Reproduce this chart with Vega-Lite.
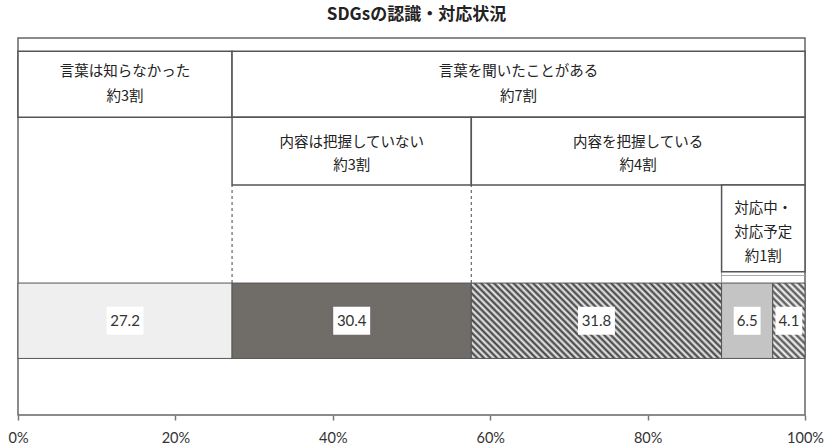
{
  "$schema": "https://vega.github.io/schema/vega-lite/v6.json",
  "width": 787,
  "height": 377,
  "autosize": {"type": "none"},
  "padding": {"left": 18, "top": 38, "right": 31, "bottom": 33},
  "background": "white",
  "title": {
    "text": "SDGsの認識・対応状況",
    "font": "Noto Sans CJK JP",
    "fontSize": 17,
    "fontWeight": "bold",
    "color": "#222222",
    "anchor": "middle",
    "offset": 14,
    "dx": 5
  },
  "config": {
    "view": {"stroke": "#666666", "strokeWidth": 1.5},
    "axisY": {"disable": true}
  },
  "datasets": {
    "results": [
      {"key": "unaware", "order": 1, "value": 27.2},
      {"key": "heard", "order": 2, "value": 30.4},
      {"key": "known", "order": 3, "value": 31.8},
      {"key": "acting", "order": 4, "value": 6.5},
      {"key": "planned", "order": 5, "value": 4.1}
    ],
    "groups": [
      {"level": "word", "from": 0, "to": 27.2, "label": "言葉は知らなかった\n約3割"},
      {"level": "word", "from": 27.2, "to": 100, "label": "言葉を聞いたことがある\n約7割"},
      {"level": "content", "from": 27.2, "to": 57.6, "label": "内容は把握していない\n約3割"},
      {"level": "content", "from": 57.6, "to": 100, "label": "内容を把握している\n約4割"},
      {"level": "action", "from": 89.4, "to": 100, "label": "対応中・\n対応予定\n約1割"}
    ]
  },
  "layer": [
    {
      "data": {"name": "results"},
      "transform": [
        {"stack": "value", "groupby": [], "sort": [{"field": "order", "order": "ascending"}], "as": ["x0", "x1"]}
      ],
      "mark": {"type": "rect", "stroke": "#555555", "strokeWidth": 1},
      "encoding": {
        "x": {
          "field": "x0",
          "type": "quantitative",
          "scale": {"domain": [0, 100], "nice": false},
          "axis": {
            "values": [0, 20, 40, 60, 80, 100],
            "labelExpr": "datum.value + '%'",
            "title": null,
            "grid": false,
            "domain": false,
            "ticks": true,
            "tickSize": 5,
            "tickWidth": 1.5,
            "tickColor": "#777777",
            "labelFont": "Lato",
            "labelFontSize": 14.5,
            "labelColor": "#333333",
            "labelPadding": 11,
            "labelFlush": false
          }
        },
        "x2": {"field": "x1"},
        "y": {"datum": 35, "type": "quantitative", "scale": {"domain": [0, 100], "nice": false}},
        "y2": {"datum": 15},
        "fill": {
          "condition": [
            {"test": "datum.key === 'unaware'", "value": "#efefef"},
            {"test": "datum.key === 'heard'", "value": "#706c68"},
            {"test": "datum.key === 'acting'", "value": "#c4c4c4"},
            {
              "test": "datum.key === 'known'",
              "value": {
                "gradient": "linear",
                "x1": 0, "y1": 1, "x2": 1.193, "y2": 0.642,
                "stops": [
                  {"offset": 0, "color": "#3a3a3a"}, {"offset": 0.01, "color": "#f2f2f2"},
                  {"offset": 0.02, "color": "#3a3a3a"}, {"offset": 0.03, "color": "#f2f2f2"},
                  {"offset": 0.04, "color": "#3a3a3a"}, {"offset": 0.05, "color": "#f2f2f2"},
                  {"offset": 0.06, "color": "#3a3a3a"}, {"offset": 0.07, "color": "#f2f2f2"},
                  {"offset": 0.08, "color": "#3a3a3a"}, {"offset": 0.09, "color": "#f2f2f2"},
                  {"offset": 0.1, "color": "#3a3a3a"}, {"offset": 0.11, "color": "#f2f2f2"},
                  {"offset": 0.12, "color": "#3a3a3a"}, {"offset": 0.13, "color": "#f2f2f2"},
                  {"offset": 0.14, "color": "#3a3a3a"}, {"offset": 0.15, "color": "#f2f2f2"},
                  {"offset": 0.16, "color": "#3a3a3a"}, {"offset": 0.17, "color": "#f2f2f2"},
                  {"offset": 0.18, "color": "#3a3a3a"}, {"offset": 0.19, "color": "#f2f2f2"},
                  {"offset": 0.2, "color": "#3a3a3a"}, {"offset": 0.21, "color": "#f2f2f2"},
                  {"offset": 0.22, "color": "#3a3a3a"}, {"offset": 0.23, "color": "#f2f2f2"},
                  {"offset": 0.24, "color": "#3a3a3a"}, {"offset": 0.25, "color": "#f2f2f2"},
                  {"offset": 0.26, "color": "#3a3a3a"}, {"offset": 0.27, "color": "#f2f2f2"},
                  {"offset": 0.28, "color": "#3a3a3a"}, {"offset": 0.29, "color": "#f2f2f2"},
                  {"offset": 0.3, "color": "#3a3a3a"}, {"offset": 0.31, "color": "#f2f2f2"},
                  {"offset": 0.32, "color": "#3a3a3a"}, {"offset": 0.33, "color": "#f2f2f2"},
                  {"offset": 0.34, "color": "#3a3a3a"}, {"offset": 0.35, "color": "#f2f2f2"},
                  {"offset": 0.36, "color": "#3a3a3a"}, {"offset": 0.37, "color": "#f2f2f2"},
                  {"offset": 0.38, "color": "#3a3a3a"}, {"offset": 0.39, "color": "#f2f2f2"},
                  {"offset": 0.4, "color": "#3a3a3a"}, {"offset": 0.41, "color": "#f2f2f2"},
                  {"offset": 0.42, "color": "#3a3a3a"}, {"offset": 0.43, "color": "#f2f2f2"},
                  {"offset": 0.44, "color": "#3a3a3a"}, {"offset": 0.45, "color": "#f2f2f2"},
                  {"offset": 0.46, "color": "#3a3a3a"}, {"offset": 0.47, "color": "#f2f2f2"},
                  {"offset": 0.48, "color": "#3a3a3a"}, {"offset": 0.49, "color": "#f2f2f2"},
                  {"offset": 0.5, "color": "#3a3a3a"}, {"offset": 0.51, "color": "#f2f2f2"},
                  {"offset": 0.52, "color": "#3a3a3a"}, {"offset": 0.53, "color": "#f2f2f2"},
                  {"offset": 0.54, "color": "#3a3a3a"}, {"offset": 0.55, "color": "#f2f2f2"},
                  {"offset": 0.56, "color": "#3a3a3a"}, {"offset": 0.57, "color": "#f2f2f2"},
                  {"offset": 0.58, "color": "#3a3a3a"}, {"offset": 0.59, "color": "#f2f2f2"},
                  {"offset": 0.6, "color": "#3a3a3a"}, {"offset": 0.61, "color": "#f2f2f2"},
                  {"offset": 0.62, "color": "#3a3a3a"}, {"offset": 0.63, "color": "#f2f2f2"},
                  {"offset": 0.64, "color": "#3a3a3a"}, {"offset": 0.65, "color": "#f2f2f2"},
                  {"offset": 0.66, "color": "#3a3a3a"}, {"offset": 0.67, "color": "#f2f2f2"},
                  {"offset": 0.68, "color": "#3a3a3a"}, {"offset": 0.69, "color": "#f2f2f2"},
                  {"offset": 0.7, "color": "#3a3a3a"}, {"offset": 0.71, "color": "#f2f2f2"},
                  {"offset": 0.72, "color": "#3a3a3a"}, {"offset": 0.73, "color": "#f2f2f2"},
                  {"offset": 0.74, "color": "#3a3a3a"}, {"offset": 0.75, "color": "#f2f2f2"},
                  {"offset": 0.76, "color": "#3a3a3a"}, {"offset": 0.77, "color": "#f2f2f2"},
                  {"offset": 0.78, "color": "#3a3a3a"}, {"offset": 0.79, "color": "#f2f2f2"},
                  {"offset": 0.8, "color": "#3a3a3a"}, {"offset": 0.81, "color": "#f2f2f2"},
                  {"offset": 0.82, "color": "#3a3a3a"}, {"offset": 0.83, "color": "#f2f2f2"},
                  {"offset": 0.84, "color": "#3a3a3a"}, {"offset": 0.85, "color": "#f2f2f2"},
                  {"offset": 0.86, "color": "#3a3a3a"}, {"offset": 0.87, "color": "#f2f2f2"},
                  {"offset": 0.88, "color": "#3a3a3a"}, {"offset": 0.89, "color": "#f2f2f2"},
                  {"offset": 0.9, "color": "#3a3a3a"}, {"offset": 0.91, "color": "#f2f2f2"},
                  {"offset": 0.92, "color": "#3a3a3a"}, {"offset": 0.93, "color": "#f2f2f2"},
                  {"offset": 0.94, "color": "#3a3a3a"}, {"offset": 0.95, "color": "#f2f2f2"},
                  {"offset": 0.96, "color": "#3a3a3a"}, {"offset": 0.97, "color": "#f2f2f2"},
                  {"offset": 0.98, "color": "#3a3a3a"}, {"offset": 0.99, "color": "#f2f2f2"},
                  {"offset": 1, "color": "#3a3a3a"}
                ]
              }
            }
          ],
          "value": {
            "gradient": "linear",
            "x1": 0, "y1": 1, "x2": 0.517, "y2": -0.207,
            "stops": [
              {"offset": 0, "color": "#4a4a4a"}, {"offset": 0.03125, "color": "#ffffff"},
              {"offset": 0.0625, "color": "#4a4a4a"}, {"offset": 0.09375, "color": "#ffffff"},
              {"offset": 0.125, "color": "#4a4a4a"}, {"offset": 0.15625, "color": "#ffffff"},
              {"offset": 0.1875, "color": "#4a4a4a"}, {"offset": 0.21875, "color": "#ffffff"},
              {"offset": 0.25, "color": "#4a4a4a"}, {"offset": 0.28125, "color": "#ffffff"},
              {"offset": 0.3125, "color": "#4a4a4a"}, {"offset": 0.34375, "color": "#ffffff"},
              {"offset": 0.375, "color": "#4a4a4a"}, {"offset": 0.40625, "color": "#ffffff"},
              {"offset": 0.4375, "color": "#4a4a4a"}, {"offset": 0.46875, "color": "#ffffff"},
              {"offset": 0.5, "color": "#4a4a4a"}, {"offset": 0.53125, "color": "#ffffff"},
              {"offset": 0.5625, "color": "#4a4a4a"}, {"offset": 0.59375, "color": "#ffffff"},
              {"offset": 0.625, "color": "#4a4a4a"}, {"offset": 0.65625, "color": "#ffffff"},
              {"offset": 0.6875, "color": "#4a4a4a"}, {"offset": 0.71875, "color": "#ffffff"},
              {"offset": 0.75, "color": "#4a4a4a"}, {"offset": 0.78125, "color": "#ffffff"},
              {"offset": 0.8125, "color": "#4a4a4a"}, {"offset": 0.84375, "color": "#ffffff"},
              {"offset": 0.875, "color": "#4a4a4a"}, {"offset": 0.90625, "color": "#ffffff"},
              {"offset": 0.9375, "color": "#4a4a4a"}, {"offset": 0.96875, "color": "#ffffff"},
              {"offset": 1, "color": "#4a4a4a"}
            ]
          }
        }
      }
    },
    {
      "data": {"name": "results"},
      "transform": [
        {"stack": "value", "groupby": [], "sort": [{"field": "order", "order": "ascending"}], "as": ["x0", "x1"]},
        {"calculate": "(datum.x0 + datum.x1) / 2", "as": "mid"},
        {"filter": "datum.value >= 10"}
      ],
      "mark": {"type": "point", "shape": "M-1.32,-1L1.32,-1L1.32,1L-1.32,1Z", "filled": true, "fill": "white", "opacity": 1, "strokeWidth": 0},
      "encoding": {
        "x": {"field": "mid", "type": "quantitative", "axis": {"title": null}},
        "y": {"datum": 25, "type": "quantitative"},
        "size": {"value": 784}
      }
    },
    {
      "data": {"name": "results"},
      "transform": [
        {"stack": "value", "groupby": [], "sort": [{"field": "order", "order": "ascending"}], "as": ["x0", "x1"]},
        {"calculate": "(datum.x0 + datum.x1) / 2", "as": "mid"},
        {"filter": "datum.value < 10"}
      ],
      "mark": {"type": "point", "shape": "M-0.96,-1L0.96,-1L0.96,1L-0.96,1Z", "filled": true, "fill": "white", "opacity": 1, "strokeWidth": 0},
      "encoding": {
        "x": {"field": "mid", "type": "quantitative", "axis": {"title": null}},
        "y": {"datum": 25, "type": "quantitative"},
        "size": {"value": 784}
      }
    },
    {
      "data": {"name": "results"},
      "transform": [
        {"stack": "value", "groupby": [], "sort": [{"field": "order", "order": "ascending"}], "as": ["x0", "x1"]},
        {"calculate": "(datum.x0 + datum.x1) / 2", "as": "mid"}
      ],
      "mark": {"type": "text", "font": "Lato", "fontSize": 15, "color": "#333333", "align": "center", "baseline": "middle"},
      "encoding": {
        "x": {"field": "mid", "type": "quantitative", "axis": {"title": null}},
        "y": {"datum": 25, "type": "quantitative"},
        "text": {"field": "value", "type": "quantitative", "format": ".1f"}
      }
    },
    {
      "data": {"name": "groups"},
      "transform": [{"filter": "datum.level === 'content'"}],
      "mark": {"type": "rule", "stroke": "#666666", "strokeWidth": 1.2, "strokeDash": [3, 3]},
      "encoding": {
        "x": {"field": "from", "type": "quantitative", "axis": {"title": null}},
        "y": {"datum": 35, "type": "quantitative"},
        "y2": {"datum": 61}
      }
    },
    {
      "data": {"name": "groups"},
      "transform": [{"filter": "datum.level === 'action'"}],
      "mark": {"type": "rule", "stroke": "#999999", "strokeWidth": 1},
      "encoding": {
        "x": {"field": "from", "type": "quantitative", "axis": {"title": null}},
        "y": {"datum": 35, "type": "quantitative"},
        "y2": {"datum": 38}
      }
    },
    {
      "data": {"name": "groups"},
      "transform": [{"filter": "datum.level === 'action'"}],
      "mark": {"type": "rule", "stroke": "#aaaaaa", "strokeWidth": 1},
      "encoding": {
        "x": {"field": "from", "type": "quantitative", "axis": {"title": null}},
        "x2": {"field": "to"},
        "y": {"datum": 37, "type": "quantitative"}
      }
    },
    {
      "data": {"name": "groups"},
      "transform": [{"filter": "datum.level === 'word'"}],
      "mark": {"type": "rect", "fill": "white", "stroke": "#555555", "strokeWidth": 1.5},
      "encoding": {
        "x": {"field": "from", "type": "quantitative", "axis": {"title": null}},
        "x2": {"field": "to"},
        "y": {"datum": 96.5, "type": "quantitative"},
        "y2": {"datum": 79}
      }
    },
    {
      "data": {"name": "groups"},
      "transform": [{"filter": "datum.level === 'content'"}],
      "mark": {"type": "rect", "fill": "white", "stroke": "#555555", "strokeWidth": 1.5},
      "encoding": {
        "x": {"field": "from", "type": "quantitative", "axis": {"title": null}},
        "x2": {"field": "to"},
        "y": {"datum": 79, "type": "quantitative"},
        "y2": {"datum": 61}
      }
    },
    {
      "data": {"name": "groups"},
      "transform": [{"filter": "datum.level === 'action'"}],
      "mark": {"type": "rect", "fill": "white", "stroke": "#555555", "strokeWidth": 1.5},
      "encoding": {
        "x": {"field": "from", "type": "quantitative", "axis": {"title": null}},
        "x2": {"field": "to"},
        "y": {"datum": 61, "type": "quantitative"},
        "y2": {"datum": 38}
      }
    },
    {
      "data": {"name": "groups"},
      "transform": [
        {"filter": "datum.level === 'word'"},
        {"calculate": "(datum.from + datum.to) / 2", "as": "mid"}
      ],
      "mark": {"type": "text", "font": "Noto Sans CJK JP", "fontSize": 14.5, "color": "#222222", "align": "center", "baseline": "middle", "lineBreak": "\n", "lineHeight": 25},
      "encoding": {
        "x": {"field": "mid", "type": "quantitative", "axis": {"title": null}},
        "y": {"datum": 91, "type": "quantitative"},
        "text": {"field": "label", "type": "nominal"}
      }
    },
    {
      "data": {"name": "groups"},
      "transform": [
        {"filter": "datum.level === 'content'"},
        {"calculate": "(datum.from + datum.to) / 2", "as": "mid"}
      ],
      "mark": {"type": "text", "font": "Noto Sans CJK JP", "fontSize": 14.5, "color": "#222222", "align": "center", "baseline": "middle", "lineBreak": "\n", "lineHeight": 23},
      "encoding": {
        "x": {"field": "mid", "type": "quantitative", "axis": {"title": null}},
        "y": {"datum": 72.2, "type": "quantitative"},
        "text": {"field": "label", "type": "nominal"}
      }
    },
    {
      "data": {"name": "groups"},
      "transform": [
        {"filter": "datum.level === 'action'"},
        {"calculate": "(datum.from + datum.to) / 2", "as": "mid"}
      ],
      "mark": {"type": "text", "font": "Noto Sans CJK JP", "fontSize": 14.5, "color": "#222222", "align": "center", "baseline": "middle", "lineBreak": "\n", "lineHeight": 24},
      "encoding": {
        "x": {"field": "mid", "type": "quantitative", "axis": {"title": null}},
        "y": {"datum": 54.6, "type": "quantitative"},
        "text": {"field": "label", "type": "nominal"}
      }
    }
  ]
}
